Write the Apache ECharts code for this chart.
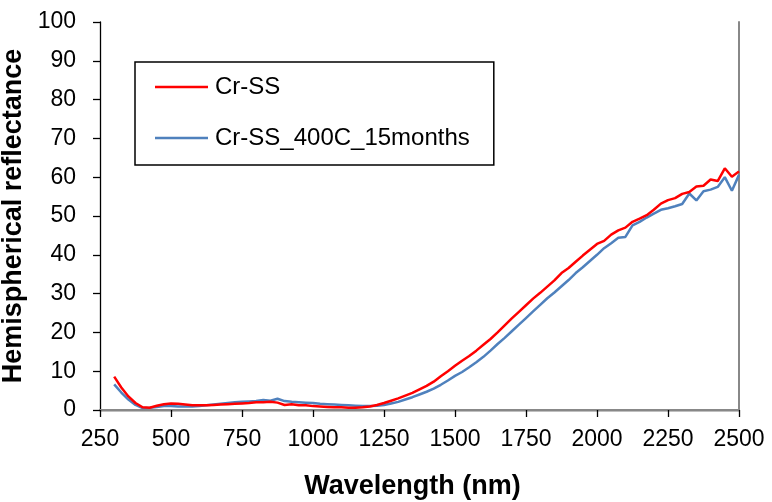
<!DOCTYPE html>
<html>
<head>
<meta charset="utf-8">
<script src="https://cdn.jsdelivr.net/npm/echarts@6/dist/echarts.min.js"></script>
<style>
html,body{margin:0;padding:0;background:#fff;}
#chart{width:772px;height:502px;}
</style>
</head>
<body>
<div id="chart"></div>
<script>
const wavelengths = [300,325,350,375,400,425,450,475,500,525,550,575,600,625,650,675,700,725,750,775,800,825,850,875,900,925,950,975,1000,1025,1050,1075,1100,1125,1150,1175,1200,1225,1250,1275,1300,1325,1350,1375,1400,1425,1450,1475,1500,1525,1550,1575,1600,1625,1650,1675,1700,1725,1750,1775,1800,1825,1850,1875,1900,1925,1950,1975,2000,2025,2050,2075,2100,2125,2150,2175,2200,2225,2250,2275,2300,2325,2350,2375,2400,2425,2450,2475,2500];
const crSS = [8.6,5.8,3.5,1.8,0.7,0.6,1.1,1.5,1.7,1.6,1.4,1.2,1.2,1.2,1.3,1.4,1.5,1.6,1.7,1.8,2.0,2.0,2.1,1.9,1.3,1.5,1.2,1.2,1.0,0.9,0.8,0.7,0.7,0.6,0.6,0.7,0.9,1.3,1.8,2.4,3.0,3.7,4.4,5.3,6.2,7.3,8.7,10.0,11.4,12.7,13.9,15.3,16.8,18.3,20.0,21.8,23.6,25.3,27.0,28.7,30.2,31.8,33.4,35.3,36.6,38.2,39.8,41.3,42.8,43.6,45.2,46.3,47.0,48.5,49.3,50.2,51.6,53.2,54.1,54.6,55.7,56.2,57.6,57.8,59.4,59.0,62.3,60.1,61.5];
const crSSAged = [6.6,4.5,2.7,1.3,0.5,0.6,0.8,1.0,1.0,0.9,0.9,0.9,1.0,1.2,1.4,1.6,1.8,2.0,2.1,2.2,2.3,2.6,2.4,2.9,2.3,2.1,2.0,1.9,1.8,1.6,1.5,1.4,1.3,1.2,1.1,1.0,1.0,1.1,1.3,1.7,2.1,2.7,3.3,4.0,4.7,5.5,6.5,7.6,8.8,9.8,11.0,12.3,13.7,15.3,17.0,18.6,20.3,22.0,23.7,25.4,27.1,28.8,30.3,31.9,33.5,35.3,36.8,38.4,40.0,41.7,43.0,44.4,44.6,47.6,48.5,49.6,50.6,51.6,52.0,52.5,53.1,55.8,54.0,56.4,56.8,57.5,60.0,56.5,60.6];
const seriesNames = ['Cr-SS', 'Cr-SS_400C_15months'];
const xTitle = 'Wavelength (nm)';
const yTitle = 'Hemispherical reflectance';

const pair = (xs, ys) => xs.map((x, i) => [x, ys[i]]);
const font = '"Liberation Sans", Arial, sans-serif';

const chart = echarts.init(document.getElementById('chart'), null, {renderer: 'canvas'});
chart.setOption({
  animation: false,
  backgroundColor: '#fff',
  grid: {left: 100, right: 33, top: 22, bottom: 92, containLabel: false, outerBoundsMode: 'none'},
  legend: {
    orient: 'vertical',
    left: 135, top: 62,
    data: seriesNames,
    icon: 'rect',
    itemWidth: 53, itemHeight: 2.5,
    itemGap: 23,
    padding: [11, 24, 13, 20],
    borderColor: '#000', borderWidth: 1.5,
    textStyle: {fontFamily: font, fontSize: 24, color: '#000', lineHeight: 28, padding: [0, 0, 0, 2]}
  },
  xAxis: [{
    type: 'value', min: 250, max: 2500, interval: 250,
    name: xTitle, nameLocation: 'middle', nameGap: 63,
    nameTextStyle: {fontFamily: font, fontSize: 27, fontWeight: 'bold', color: '#000', padding: [0, 14, 0, 0]},
    axisLine: {lineStyle: {color: '#000', width: 1.3}},
    axisTick: {length: 7, lineStyle: {color: '#000', width: 1.3}},
    axisLabel: {fontFamily: font, fontSize: 23, color: '#000', margin: 18, formatter: v => String(v)},
    splitLine: {show: false}
  }, {
    type: 'value', min: 250, max: 2500, position: 'top',
    axisLine: {show: true, lineStyle: {color: '#888', width: 2}},
    axisTick: {show: false}, axisLabel: {show: false}, splitLine: {show: false}
  }],
  yAxis: [{
    type: 'value', min: 0, max: 100, interval: 10,
    name: yTitle, nameLocation: 'middle', nameGap: 64,
    nameTextStyle: {fontFamily: font, fontSize: 27, fontWeight: 'bold', color: '#000'},
    axisLine: {show: true, lineStyle: {color: '#000', width: 1.3}},
    axisTick: {show: true, length: 7, lineStyle: {color: '#000', width: 1.3}},
    axisLabel: {fontFamily: font, fontSize: 23, color: '#000', margin: 24},
    splitLine: {show: false}
  }, {
    type: 'value', min: 0, max: 100, position: 'right',
    axisLine: {show: true, lineStyle: {color: '#888', width: 2}},
    axisTick: {show: false}, axisLabel: {show: false}, splitLine: {show: false}
  }],
  series: [{
    name: seriesNames[0], type: 'line', data: pair(wavelengths, crSS),
    showSymbol: false, symbol: 'none', z: 3,
    lineStyle: {color: '#FF0000', width: 2.5}, itemStyle: {color: '#FF0000'}
  }, {
    name: seriesNames[1], type: 'line', data: pair(wavelengths, crSSAged),
    showSymbol: false, symbol: 'none', z: 2,
    lineStyle: {color: '#4F81BD', width: 2.5}, itemStyle: {color: '#4F81BD'}
  }]
});
</script>
</body>
</html>
